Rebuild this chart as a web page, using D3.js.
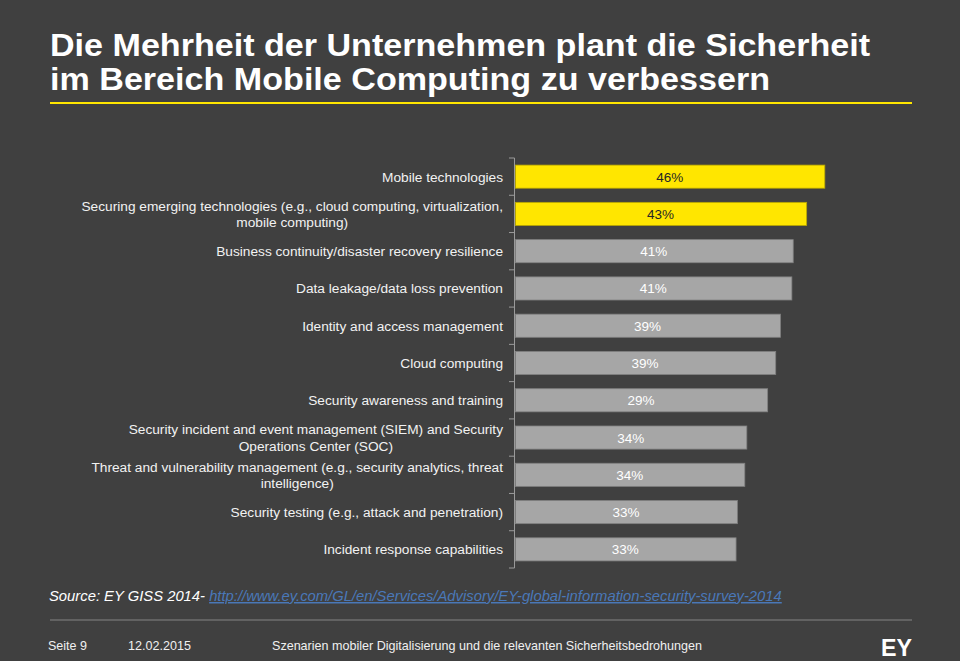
<!DOCTYPE html>
<html>
<head>
<meta charset="utf-8">
<script src="https://cdn.jsdelivr.net/npm/d3@7"></script>
<style>
  html, body { margin: 0; padding: 0; background: #404040; }
  svg { display: block; }
  text { font-family: "Liberation Sans", Arial, sans-serif; }
</style>
</head>
<body>
<svg id="chart" width="960" height="661"></svg>
<script>
// ---------- data ----------
const titleLines = [
  "Die Mehrheit der Unternehmen plant die Sicherheit",
  "im Bereich Mobile Computing zu verbessern"
];
const categories = [
  ["Mobile technologies"],
  ["Securing emerging technologies (e.g., cloud computing, virtualization,", "mobile computing)"],
  ["Business continuity/disaster recovery resilience"],
  ["Data leakage/data loss prevention"],
  ["Identity and access management"],
  ["Cloud computing"],
  ["Security awareness and training"],
  ["Security incident and event management (SIEM) and Security", "Operations Center (SOC)"],
  ["Threat and vulnerability management (e.g., security analytics, threat", "intelligence)"],
  ["Security testing (e.g., attack and penetration)"],
  ["Incident response capabilities"]
];
// bar lengths as drawn in the reference (percent)
const values = [46.0, 43.3, 41.3, 41.1, 39.4, 38.7, 37.5, 34.4, 34.1, 33.0, 32.8];
// labels printed on the bars (as in the reference)
const valueLabels = ["46%", "43%", "41%", "41%", "39%", "39%", "29%", "34%", "34%", "33%", "33%"];
const highlighted = [true, true, false, false, false, false, false, false, false, false, false];
const sourcePrefix = "Source: EY GISS 2014- ";
const sourceLink = "http://www.ey.com/GL/en/Services/Advisory/EY-global-information-security-survey-2014";
const footerPage = "Seite 9";
const footerDate = "12.02.2015";
const footerTitle = "Szenarien mobiler Digitalisierung und die relevanten Sicherheitsbedrohungen";

// ---------- drawing ----------
const svg = d3.select("#chart");
const W = 960, H = 661;
svg.append("rect").attr("width", W).attr("height", H).attr("fill", "#404040");

// title
const titleWidths = [820, 720];
titleLines.forEach((t, i) => {
  svg.append("text")
    .attr("x", 50).attr("y", 56 + i * 33.5)
    .attr("fill", "#ffffff")
    .attr("font-size", 31).attr("font-weight", "bold")
    .attr("textLength", titleWidths[i]).attr("lengthAdjust", "spacingAndGlyphs")
    .text(t);
});
svg.append("line").attr("x1", 50).attr("x2", 912).attr("y1", 103).attr("y2", 103)
  .attr("stroke", "#ffe600").attr("stroke-width", 2);

// scales
const idx = d3.range(categories.length);
const y = d3.scaleBand().domain(idx).range([158, 568]).paddingInner(0.38).paddingOuter(0.19);
const x = d3.scaleLinear().domain([0, 50]).range([515, 851.2]);

// axis
const g = svg.append("g");
g.append("line").attr("x1", 514.5).attr("x2", 514.5).attr("y1", 158).attr("y2", 568)
  .attr("stroke", "#9a9a9a").attr("stroke-width", 1);
const step = y.step();
d3.range(categories.length + 1).forEach(i => {
  const yy = 158 + i * step;
  g.append("line").attr("x1", 509).attr("x2", 514.5).attr("y1", yy).attr("y2", yy)
    .attr("stroke", "#9a9a9a").attr("stroke-width", 1);
});

// bars
g.selectAll("rect.bar").data(idx).join("rect")
  .attr("class", "bar")
  .attr("x", x(0) + 0.5)
  .attr("y", i => y(i))
  .attr("width", i => x(values[i]) - x(0))
  .attr("height", y.bandwidth())
  .attr("fill", i => highlighted[i] ? "#ffe600" : "#a6a6a6")
  .attr("stroke", i => highlighted[i] ? "#b8a600" : "#808080")
  .attr("stroke-width", 0.8);

// value labels
g.selectAll("text.val").data(idx).join("text")
  .attr("class", "val")
  .attr("x", i => (x(0) + x(values[i])) / 2)
  .attr("y", i => y(i) + y.bandwidth() / 2 + 5)
  .attr("text-anchor", "middle")
  .attr("font-size", 13.5)
  .attr("fill", i => highlighted[i] ? "#262626" : "#ffffff")
  .text(i => valueLabels[i]);

// category labels
const labelRight = 503;
const lineH = 16.5;
idx.forEach(i => {
  const lines = categories[i];
  const cy = y(i) + y.bandwidth() / 2;
  const top = cy - (lines.length - 1) * lineH / 2;
  let firstW = 0;
  lines.forEach((l, j) => {
    const t = svg.append("text")
      .attr("font-size", 13.7).attr("fill", "#f2f2f2")
      .attr("y", top + j * lineH + 5)
      .text(l);
    if (j === 0) {
      t.attr("x", labelRight).attr("text-anchor", "end");
      firstW = t.node().getComputedTextLength();
    } else {
      t.attr("x", labelRight - firstW / 2).attr("text-anchor", "middle");
    }
  });
});

// source
const src = svg.append("text").attr("x", 49).attr("y", 601)
  .attr("font-size", 14.8).attr("font-style", "italic").attr("fill", "#ffffff");
src.append("tspan").text(sourcePrefix);
src.append("tspan").attr("fill", "#4a78b8").attr("text-decoration", "underline").text(sourceLink);

svg.append("line").attr("x1", 50).attr("x2", 912).attr("y1", 620).attr("y2", 620)
  .attr("stroke", "#6e6e6e").attr("stroke-width", 1.5);

// footer
const fy = 650;
svg.append("text").attr("x", 48).attr("y", fy).attr("font-size", 13).attr("fill", "#f0f0f0")
  .attr("textLength", 39).attr("lengthAdjust", "spacingAndGlyphs").text(footerPage);
svg.append("text").attr("x", 128).attr("y", fy).attr("font-size", 13).attr("fill", "#f0f0f0")
  .attr("textLength", 63).attr("lengthAdjust", "spacingAndGlyphs").text(footerDate);
svg.append("text").attr("x", 272).attr("y", fy).attr("font-size", 13.2).attr("fill", "#f0f0f0")
  .attr("textLength", 430).attr("lengthAdjust", "spacingAndGlyphs").text(footerTitle);
svg.append("text").attr("x", 881).attr("y", 655.5).attr("font-size", 23.5).attr("font-weight", "bold")
  .attr("fill", "#ffffff").attr("textLength", 31).attr("lengthAdjust", "spacingAndGlyphs").text("EY");
</script>
</body>
</html>
